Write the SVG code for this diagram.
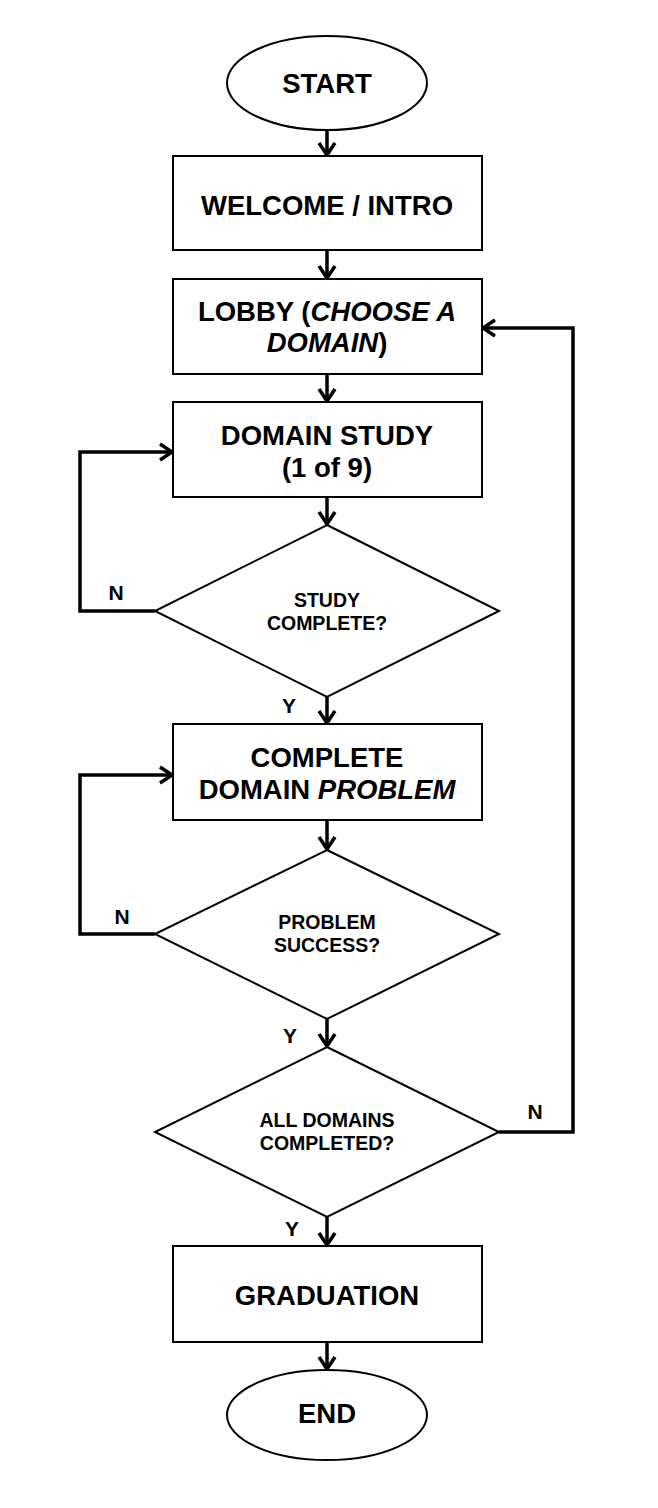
<svg xmlns="http://www.w3.org/2000/svg" width="658" height="1508" viewBox="0 0 658 1508">
<style>
.shape{fill:#fff;stroke:#000;stroke-width:2}
.conn{fill:none;stroke:#000;stroke-width:3.5;marker-end:url(#ah)}
.big{font-family:"Liberation Sans",Arial,sans-serif;font-weight:bold;font-size:27.5px;text-anchor:middle;fill:#000}
.small{font-family:"Liberation Sans",Arial,sans-serif;font-weight:bold;font-size:19.5px;text-anchor:middle;fill:#000}
.lbl{font-family:"Liberation Sans",Arial,sans-serif;font-weight:bold;font-size:21px;text-anchor:middle;fill:#000}
.it{font-style:italic}
</style>
<defs>
<marker id="ah" markerUnits="userSpaceOnUse" markerWidth="20" markerHeight="20" viewBox="-15 -10 20 20" refX="0" refY="0" orient="auto">
<path d="M-12,-8 L0,0 L-12,8" fill="none" stroke="#000" stroke-width="3.5"/>
</marker>
</defs>
<rect width="658" height="1508" fill="#fff"/>
<g id="connectors">
<line class="conn" x1="327" y1="130" x2="327" y2="155"/>
<line class="conn" x1="327" y1="250" x2="327" y2="278"/>
<line class="conn" x1="327" y1="374" x2="327" y2="401"/>
<line class="conn" x1="327" y1="497" x2="327" y2="524"/>
<line class="conn" x1="327" y1="697" x2="327" y2="723"/>
<line class="conn" x1="327" y1="820" x2="327" y2="849"/>
<line class="conn" x1="327" y1="1019" x2="327" y2="1046"/>
<line class="conn" x1="327" y1="1217" x2="327" y2="1245"/>
<line class="conn" x1="327" y1="1342" x2="327" y2="1369"/>
<polyline class="conn" points="155,611 80,611 80,452 172,452"/>
<polyline class="conn" points="155,934 80,934 80,775 172,775"/>
<polyline class="conn" points="499,1132 573,1132 573,328 483,328"/>
<text class="lbl" x="116" y="600">N</text>
<text class="lbl" x="289" y="713">Y</text>
<text class="lbl" x="122" y="924">N</text>
<text class="lbl" x="290" y="1043">Y</text>
<text class="lbl" x="535" y="1119">N</text>
<text class="lbl" x="292" y="1236">Y</text>
</g>
<g id="start">
<ellipse class="shape" cx="327" cy="83" rx="100" ry="47"/>
<text class="big" x="327" y="93">START</text>
</g>
<g id="welcome">
<rect class="shape" x="173" y="156" width="309" height="94"/>
<text class="big" x="327" y="215">WELCOME / INTRO</text>
</g>
<g id="lobby">
<rect class="shape" x="173" y="279" width="309" height="95"/>
<text class="big" x="327" y="321">LOBBY (<tspan class="it">CHOOSE A</tspan></text>
<text class="big" x="327" y="352"><tspan class="it">DOMAIN</tspan>)</text>
</g>
<g id="study">
<rect class="shape" x="173" y="402" width="309" height="95"/>
<text class="big" x="327" y="445">DOMAIN STUDY</text>
<text class="big" x="327" y="477">(1 of 9)</text>
</g>
<g id="studyComplete">
<polygon class="shape" points="327,525 499,611 327,697 155,611"/>
<text class="small" x="327" y="607">STUDY</text>
<text class="small" x="327" y="630">COMPLETE?</text>
</g>
<g id="problem">
<rect class="shape" x="173" y="724" width="309" height="96"/>
<text class="big" x="327" y="767">COMPLETE</text>
<text class="big" x="327" y="799">DOMAIN <tspan class="it">PROBLEM</tspan></text>
</g>
<g id="problemSuccess">
<polygon class="shape" points="327,850 499,934 327,1019 155,934"/>
<text class="small" x="327" y="929">PROBLEM</text>
<text class="small" x="327" y="952">SUCCESS?</text>
</g>
<g id="allDomains">
<polygon class="shape" points="327,1047 499,1132 327,1217 155,1132"/>
<text class="small" x="327" y="1127">ALL DOMAINS</text>
<text class="small" x="327" y="1150">COMPLETED?</text>
</g>
<g id="graduation">
<rect class="shape" x="173" y="1246" width="309" height="96"/>
<text class="big" x="327" y="1305">GRADUATION</text>
</g>
<g id="end">
<ellipse class="shape" cx="327" cy="1415" rx="100" ry="45"/>
<text class="big" x="327" y="1423">END</text>
</g>
</svg>
